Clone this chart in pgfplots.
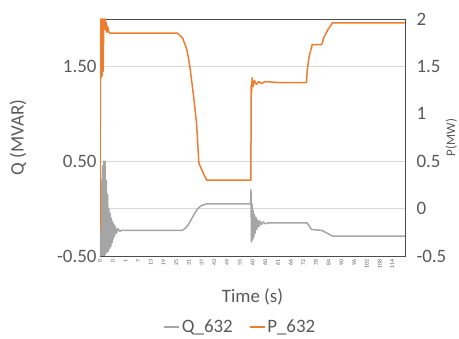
\documentclass[border=0pt]{standalone}
\usepackage{pgfplots}
\pgfplotsset{compat=1.18}
\usepackage{fontspec}
\setmainfont{Carlito}
\definecolor{qgray}{HTML}{A5A5A5}
\definecolor{porange}{HTML}{ED7D31}
\definecolor{txt}{HTML}{595959}
\definecolor{gridc}{HTML}{D9D9D9}
\begin{document}
\begin{tikzpicture}
\path[use as bounding box] (-100bp,-83bp) rectangle (359bp,256bp);
\begin{axis}[
  at={(0,0)}, anchor=south west,
  scale only axis, width=305bp, height=237bp,
  xmin=0, xmax=24, ymin=-0.5, ymax=2.0,
  ytick={-0.5,0.5,1.5},
  yticklabels={-0.50,0.50,1.50},
  extra y ticks={0}, extra y tick labels={},
  ymajorgrids, grid style={gridc, line width=0.8bp},
  xtick={0,...,23},
  xticklabels={0,0,1,7,13,19,25,31,37,43,49,55,60,60,61,66,72,78,84,90,96,102,108,114},
  xticklabel style={rotate=90, anchor=east, font=\fontsize{5.8}{6}\selectfont, text=txt},
  yticklabel style={font=\fontsize{19}{22}\selectfont, text=txt},
  major tick length=0,
  axis line style={draw=black!70, line width=0.9bp},
  xlabel={Time (s)},
  xlabel style={at={(axis description cs:0.5,-0.173)}, anchor=center, font=\fontsize{19}{22}\selectfont, text=txt},
  ylabel={Q (MVAR)},
  ylabel style={at={(axis description cs:-0.269,0.5)}, anchor=center, font=\fontsize{19}{22}\selectfont, text=txt},
  clip=true,
]
\addplot[qgray, line width=1.5bp, line join=round] coordinates {
(0,-0.25)(0.05,-0.5)(0.1,0.3)(0.15,-0.5)(0.2,0.45)(0.25,-0.5)(0.3,0.5)(0.35,-0.5)(0.4,0.5)(0.45,-0.48)(0.5,0.3)(0.55,-0.46)(0.6,0.15)(0.65,-0.45)(0.7,0.0)(0.75,-0.42)(0.8,-0.05)(0.85,-0.4)(0.9,-0.1)(0.95,-0.36)(1.0,-0.14)(1.05,-0.32)(1.1,-0.17)(1.15,-0.29)(1.2,-0.19)(1.3,-0.26)(1.4,-0.21)(1.55,-0.24)(1.7,-0.23)(6.45,-0.23)(6.7,-0.21)(6.95,-0.17)(7.2,-0.11)(7.45,-0.05)(7.7,0.0)(7.95,0.03)(8.4,0.05)(11.85,0.05)(11.88,0.2)(11.92,-0.35)(11.96,0.05)(12.0,-0.33)(12.05,-0.02)(12.1,-0.3)(12.15,-0.06)(12.2,-0.26)(12.27,-0.09)(12.34,-0.22)(12.42,-0.12)(12.5,-0.19)(12.6,-0.13)(12.7,-0.17)(12.85,-0.14)(13.0,-0.16)(13.3,-0.15)(16.3,-0.15)(16.65,-0.22)(17.45,-0.23)(18.3,-0.29)(24,-0.29)
};
\end{axis}
\begin{axis}[
  at={(0,0)}, anchor=south west,
  scale only axis, width=305bp, height=237bp,
  xmin=0, xmax=24, ymin=-0.5, ymax=2.0,
  axis x line=none, axis y line*=right,
  ytick={-0.5,0,0.5,1,1.5,2},
  yticklabels={-0.5,0,0.5,1,1.5,2},
  yticklabel style={font=\fontsize{19}{22}\selectfont, text=txt, anchor=west, xshift=8bp},
  major tick length=0,
  axis line style={draw=black!70, line width=0.9bp},
  ylabel={P(MW)},
  ylabel style={at={(axis description cs:1.152,0.5)}, anchor=center, rotate=0, font=\fontsize{13}{15}\selectfont, text=txt},
  legend style={at={(axis description cs:0.46,-0.30)}, anchor=center, draw=none, fill=none,
    font=\fontsize{19}{22}\selectfont, text=txt, legend columns=2,
    /tikz/every even column/.append style={column sep=14bp}},
  legend image code/.code={\draw[#1] (0bp,0bp) -- (15bp,0bp);},
]
\addlegendimage{qgray, line width=1.5bp}
\addlegendentry{Q\_632}
\addplot[porange, line width=1.5bp, line join=round] coordinates {
(0,-0.23)(0.04,2.0)(0.08,1.38)(0.12,2.0)(0.16,1.4)(0.2,2.0)(0.25,1.45)(0.3,2.0)(0.35,1.9)(0.4,2.0)(0.45,1.88)(0.5,1.96)(0.55,1.86)(0.6,1.92)(0.7,1.86)(0.8,1.85)(6.1,1.85)(6.5,1.80)(6.85,1.67)(7.08,1.49)(7.35,1.2)(7.6,0.9)(7.78,0.48)(8.1,0.38)(8.4,0.30)(11.87,0.30)(11.9,1.30)(11.93,1.22)(11.97,1.38)(12.05,1.29)(12.15,1.35)(12.3,1.31)(12.5,1.34)(12.7,1.32)(13.0,1.34)(14,1.33)(16.25,1.33)(16.3,1.45)(16.45,1.6)(16.7,1.73)(17.45,1.73)(17.6,1.8)(17.9,1.88)(18.3,1.96)(24,1.96)
};
\addlegendentry{P\_632}
\end{axis}
\end{tikzpicture}
\end{document}
